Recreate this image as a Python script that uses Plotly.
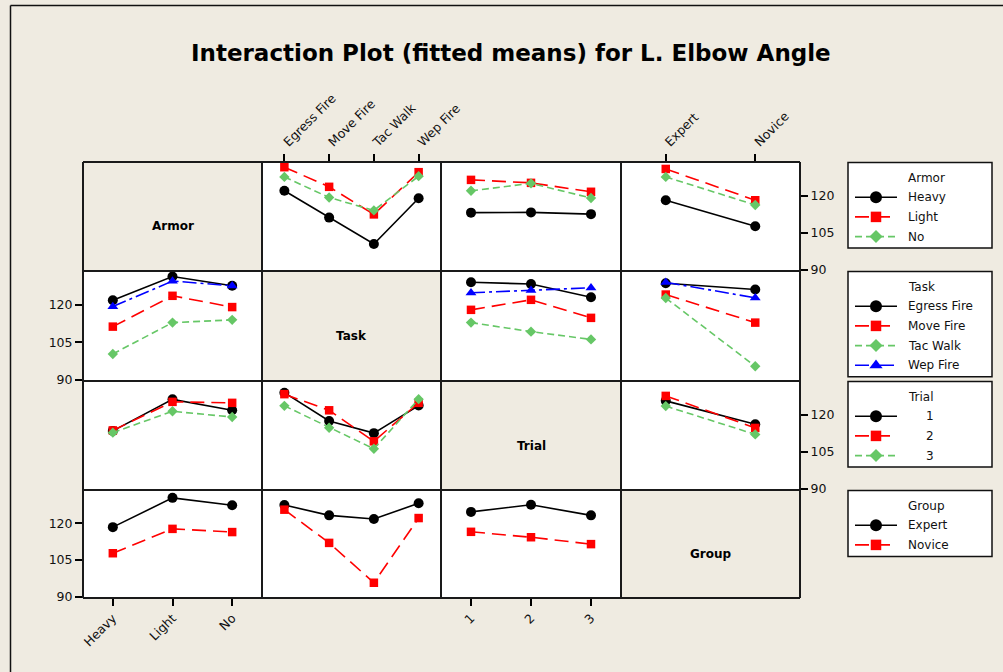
import plotly.graph_objects as go

W, H = 1003, 672

# ---------------- data ----------------
armor = ["Heavy", "Light", "No"]
task = ["Egress Fire", "Move Fire", "Tac Walk", "Wep Fire"]
trial = ["1", "2", "3"]
group = ["Expert", "Novice"]

factors = ["Armor", "Task", "Trial", "Group"]
levels = {"Armor": armor, "Task": task, "Trial": trial, "Group": group}

# fitted means: one list per level of the row factor, over levels of the column factor
armor_by_task = [[121.9, 111.1, 100.5, 118.9],
                 [131.4, 123.5, 112.4, 129.4],
                 [127.5, 119.2, 114.0, 127.8]]
armor_by_trial = [[113.1, 113.2, 112.5],
                  [126.3, 125.1, 121.5],
                  [121.9, 124.9, 119.0]]
armor_by_group = [[118.1, 107.6],
                  [130.7, 118.1],
                  [127.5, 116.2]]

task_by_armor = [[121.8, 131.3, 127.6],
                 [111.3, 123.6, 119.1],
                 [100.4, 112.9, 114.0],
                 [119.3, 129.5, 127.6]]
task_by_trial = [[129.0, 128.3, 123.0],
                 [118.0, 122.0, 114.8],
                 [112.9, 109.3, 106.2],
                 [124.8, 125.8, 126.8]]
task_by_group = [[128.6, 126.1],
                 [124.1, 112.9],
                 [122.7, 95.5],
                 [129.0, 122.8]]

trial_by_armor = [[113.4, 126.1, 121.7],
                  [113.6, 125.1, 124.7],
                  [112.7, 121.3, 119.0]]
trial_by_task = [[128.8, 117.4, 112.5, 123.6],
                 [128.2, 121.7, 109.2, 124.7],
                 [123.5, 114.7, 106.2, 126.2]]
trial_by_group = [[125.5, 116.1],
                  [127.5, 114.6],
                  [123.4, 112.0]]

group_by_armor = [[118.4, 130.3, 127.3],
                  [107.8, 117.7, 116.4]]
group_by_task = [[127.4, 123.2, 121.7, 128.1],
                 [125.5, 112.0, 95.8, 122.1]]
group_by_trial = [[124.6, 127.5, 123.2],
                  [116.5, 114.3, 111.5]]

means = {
    ("Armor", "Task"): armor_by_task, ("Armor", "Trial"): armor_by_trial, ("Armor", "Group"): armor_by_group,
    ("Task", "Armor"): task_by_armor, ("Task", "Trial"): task_by_trial, ("Task", "Group"): task_by_group,
    ("Trial", "Armor"): trial_by_armor, ("Trial", "Task"): trial_by_task, ("Trial", "Group"): trial_by_group,
    ("Group", "Armor"): group_by_armor, ("Group", "Task"): group_by_task, ("Group", "Trial"): group_by_trial,
}

y_ticks = [90, 105, 120]
title_text = "Interaction Plot (fitted means) for L. Elbow Angle"

# ---------------- styling ----------------
BG = "#EFEBE1"
FONT = "DejaVu Sans"
styles = [
    dict(color="#000000", dash="solid", symbol="circle", size=10),
    dict(color="#FF0000", dash="14px,7px", symbol="square", size=8.5),
    dict(color="#66C766", dash="7px,4px", symbol="diamond", size=8),
    dict(color="#0000FF", dash="14px,4px,3px,4px", symbol="triangle-up", size=9.5),
]
col_edges = [83, 262, 441, 621, 800]
row_edges = [162, 271, 381, 490, 598]
y_range = [89.6, 133.5]


def px(x):
    return x / W


def py(y):
    return 1 - y / H


fig = go.Figure()
layout = dict(
    width=W, height=H, autosize=False, margin=dict(l=0, r=0, t=0, b=0, pad=0),
    paper_bgcolor=BG, plot_bgcolor="rgba(0,0,0,0)", showlegend=False,
    font=dict(family=FONT, size=12, color="#111111"),
)
shapes = []
annotations = []

tickfont = dict(family=FONT, size=12.5, color="#111111")
k = 0
for r, rf in enumerate(factors):
    for c, cf in enumerate(factors):
        x0, x1 = col_edges[c], col_edges[c + 1]
        y0, y1 = row_edges[r], row_edges[r + 1]
        if r == c:
            annotations.append(dict(
                x=px((x0 + x1) / 2), y=py((y0 + y1) / 2 + 10), xref="paper", yref="paper",
                text="<b>%s</b>" % rf, showarrow=False, font=dict(family=FONT, size=12, color="#000000"),
                xanchor="center", yanchor="middle"))
            continue
        shapes.append(dict(type="rect", xref="paper", yref="paper", x0=px(x0), x1=px(x1),
                           y0=py(y1), y1=py(y0), fillcolor="white", line=dict(width=0), layer="below"))
        k += 1
        sfx = "" if k == 1 else str(k)
        xa, ya = "x" + sfx, "y" + sfx
        cats = levels[cf]
        xax = dict(domain=[px(x0), px(x1)], anchor=ya, type="category", automargin=False,
                   categoryorder="array", categoryarray=cats,
                   range=[-0.5, len(cats) - 0.5], showgrid=False, zeroline=False, showline=False)
        top = (r == 0 and c in (1, 3))
        bottom = (r == 3 and c in (0, 2))
        if top or bottom:
            xax.update(side="top" if top else "bottom", ticks="outside", ticklen=7, tickwidth=1.5,
                       tickcolor="#000000", tickangle=-45, showticklabels=True, tickfont=tickfont)
        else:
            xax.update(ticks="", showticklabels=False)
        yax = dict(domain=[py(y1), py(y0)], anchor=xa, range=y_range, showgrid=False, automargin=False,
                   zeroline=False, showline=False, tickvals=y_ticks)
        right = (c == 3 and r in (0, 2))
        left = (c == 0 and r in (1, 3))
        if right or left:
            yax.update(side="right" if right else "left", ticks="outside", ticklen=7, tickwidth=1.5,
                       tickcolor="#000000", showticklabels=True, tickfont=tickfont)
        else:
            yax.update(ticks="", showticklabels=False)
        layout["xaxis" + sfx] = xax
        layout["yaxis" + sfx] = yax
        for i, lev in enumerate(levels[rf]):
            st = styles[i]
            fig.add_trace(go.Scatter(
                x=cats, y=means[(rf, cf)][i], xaxis=xa, yaxis=ya, mode="lines+markers",
                name=lev, line=dict(color=st["color"], width=1.6, dash=st["dash"]),
                marker=dict(symbol=st["symbol"], size=st["size"], color=st["color"],
                            opacity=1, line=dict(width=0)),
                cliponaxis=False, hoverinfo="x+y+name"))

# cell grid lines
for xe in col_edges:
    shapes.append(dict(type="line", xref="paper", yref="paper", x0=px(xe), x1=px(xe),
                       y0=py(row_edges[0]), y1=py(row_edges[-1]), line=dict(color="#1a1a1a", width=2)))
for ye in row_edges:
    shapes.append(dict(type="line", xref="paper", yref="paper", x0=px(col_edges[0]), x1=px(col_edges[-1]),
                       y0=py(ye), y1=py(ye), line=dict(color="#1a1a1a", width=2)))

# outer frame (only top and left edges are inside the picture)
shapes.append(dict(type="line", xref="paper", yref="paper", x0=px(10.5), x1=1.0, y0=py(5.5), y1=py(5.5),
                   line=dict(color="#111111", width=1.5)))
shapes.append(dict(type="line", xref="paper", yref="paper", x0=px(10.5), x1=px(10.5), y0=py(5.5), y1=0.0,
                   line=dict(color="#111111", width=1.5)))

# title
annotations.append(dict(x=px(511), y=py(53), xref="paper", yref="paper", text="<b>%s</b>" % title_text,
                        showarrow=False, font=dict(family=FONT, size=23, color="#000000"),
                        xanchor="center", yanchor="middle"))

# ---------------- legends (overlay pixel axis) ----------------
k += 1
lsfx = str(k)
layout["xaxis" + lsfx] = dict(domain=[0, 1], range=[0, W], visible=False, anchor="y" + lsfx,
                              fixedrange=True, automargin=False)
layout["yaxis" + lsfx] = dict(domain=[0, 1], range=[H, 0], visible=False, anchor="x" + lsfx,
                              fixedrange=True, automargin=False)

LX0, LX1 = 848, 992
key_x0, key_x1 = 855, 897
text_x = 906
for r, rf in enumerate(factors):
    top = row_edges[r] + 0.5
    title_y = top + 15
    item_ys = [title_y + 19.7 * (i + 1) for i in range(len(levels[rf]))]
    bot = item_ys[-1] + 11.5
    shapes.append(dict(type="rect", xref="paper", yref="paper", x0=px(LX0), x1=px(LX1),
                       y0=py(bot), y1=py(top), fillcolor="white",
                       line=dict(color="#111111", width=1.5), layer="below"))
    annotations.append(dict(x=px(text_x), y=py(title_y), xref="paper", yref="paper", text=rf,
                            showarrow=False, xanchor="left", yanchor="middle",
                            font=dict(family=FONT, size=12, color="#111111")))
    for i, lev in enumerate(levels[rf]):
        st = styles[i]
        yy = item_ys[i]
        fig.add_trace(go.Scatter(
            x=[key_x0, (key_x0 + key_x1) / 2, key_x1], y=[yy, yy, yy],
            xaxis="x" + lsfx, yaxis="y" + lsfx, mode="lines+markers",
            line=dict(color=st["color"], width=1.6, dash=st["dash"]),
            marker=dict(symbol=st["symbol"], size=[0, st["size"] + 2, 0], color=st["color"],
                        opacity=1, line=dict(width=0)),
            hoverinfo="skip", cliponaxis=False))
        if rf == "Trial":
            annotations.append(dict(x=px(930), y=py(yy), xref="paper", yref="paper", text=lev,
                                    showarrow=False, xanchor="center", yanchor="middle",
                                    font=dict(family=FONT, size=12, color="#111111")))
        else:
            annotations.append(dict(x=px(text_x), y=py(yy), xref="paper", yref="paper", text=lev,
                                    showarrow=False, xanchor="left", yanchor="middle",
                                    font=dict(family=FONT, size=12, color="#111111")))

layout["shapes"] = shapes
layout["annotations"] = annotations
fig.update_layout(**layout)
fig.write_html(
    "out.html",
    config={"responsive": False, "displayModeBar": False},
    post_script="document.body.style.margin='0';document.body.style.overflow='hidden';",
)
